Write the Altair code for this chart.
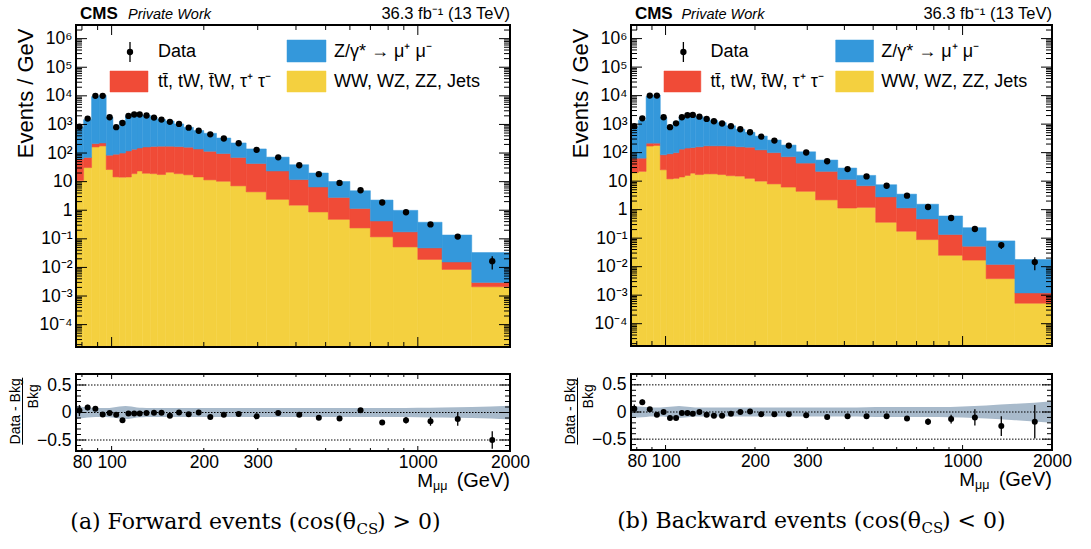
import altair as alt
import pandas as pd

# ---------------- data ----------------
EDGES = [76, 81, 86, 91, 96, 101, 106, 111, 116, 121, 126, 134, 141, 150, 160,
         172, 185, 200, 220, 245, 275, 320, 380, 440, 510, 600, 700, 830, 1000,
         1200, 1500, 2000]

# (a) forward: stack tops (yellow, yellow+red, total) in Events/GeV
FWD_VV = [11, 31, 163, 177, 26.5, 14.6, 14.3, 14.5, 19, 23.6, 19.6, 19, 17.7, 21.3, 19,
          17.3, 14.6, 11.5, 10.3, 7.1, 4.4, 2.4, 1.5, 0.87, 0.48, 0.24, 0.117, 0.052,
          0.019, 0.0085, 0.0021]
FWD_TT = [62, 70, 214, 225, 84, 91, 100, 118, 136, 150, 163, 170, 173, 173, 168, 160,
          138, 115, 96, 70, 43, 23.6, 11.8, 6.5, 2.8, 1.15, 0.42, 0.175, 0.048, 0.0155,
          0.0030]
FWD_DY = [800, 1470, 9400, 10400, 1800, 830, 1300, 2020, 2270, 2270, 2070, 1750, 1490,
          1310, 1040, 790, 610, 489, 335, 225, 139, 72, 39, 20, 10.1, 4.8, 2.27, 0.99,
          0.38, 0.136, 0.033]
FWD_DATA = [830, 1600, 10000, 10000, 1780, 800, 1120, 1980, 2220, 2220, 2050, 1740, 1480,
            1230, 1040, 770, 600, 450, 322, 220, 129, 71, 37.5, 18.2, 9.0, 5.0, 1.86,
            0.85, 0.32, 0.12, 0.0165]
FWD_DATA_ERR = [60, 65, 110, 110, 45, 30, 35, 45, 47, 47, 45, 40, 35, 30, 26, 22, 18, 15,
                11, 8, 5, 2.5, 1.5, 0.9, 0.55, 0.35, 0.15, 0.08, 0.045, 0.02, 0.008]
FWD_RATIO = [0.035, 0.09, 0.07, -0.035, -0.01, -0.04, -0.14, -0.02, -0.02, -0.02, -0.01,
             -0.005, -0.005, -0.06, 0.0, -0.03, 0.0, -0.08, -0.04, -0.025, -0.07, -0.01,
             -0.04, -0.095, -0.11, 0.04, -0.18, -0.14, -0.16, -0.12, -0.5]
FWD_RATIO_ERR = [0.10, 0.05, 0.015, 0.015, 0.025, 0.03, 0.03, 0.02, 0.02, 0.02, 0.02,
                 0.02, 0.02, 0.02, 0.02, 0.02, 0.02, 0.02, 0.02, 0.02, 0.02, 0.02, 0.025,
                 0.03, 0.035, 0.04, 0.04, 0.06, 0.08, 0.12, 0.16]
FWD_BAND = [0.125, 0.10, 0.085, 0.08, 0.08, 0.09, 0.11, 0.12, 0.11, 0.09,
            0.085, 0.08, 0.08, 0.08, 0.08, 0.08, 0.08, 0.08, 0.08, 0.08,
            0.08, 0.08, 0.08, 0.08, 0.08, 0.08, 0.08, 0.08,
            0.085, 0.09, 0.10, 0.125]

# (b) backward
BWD_VV = [20, 22, 170, 178, 25, 12, 12.5, 14, 15.8, 19, 17, 18, 18, 17, 15.5, 15, 12.5,
          10, 8, 6.2, 4.4, 2.2, 1.14, 1.2, 0.36, 0.175, 0.089, 0.025, 0.017, 0.0038,
          0.00052]
BWD_TT = [64, 64, 215, 215, 84, 91, 100, 133, 145, 150, 160, 173, 173, 173, 170, 160, 155,
          125, 100, 72, 43, 22, 11.5, 6.9, 2.8, 1.15, 0.47, 0.134, 0.052, 0.012, 0.0012]
BWD_DY = [800, 1360, 9500, 10500, 1740, 876, 1200, 1780, 2090, 2160, 1830, 1600, 1350,
          1130, 876, 660, 515, 380, 276, 184, 107, 55, 28.8, 15.9, 7.5, 3.5, 1.55, 0.6,
          0.233, 0.08, 0.0178]
BWD_DATA = [850, 1600, 10000, 10000, 1740, 780, 1070, 1740, 2050, 2100, 1830, 1520, 1260,
            1050, 850, 660, 520, 365, 265, 177, 101, 50, 26.5, 14.6, 6.9, 3.1, 1.24, 0.51,
            0.21, 0.057, 0.0145]
BWD_DATA_ERR = [60, 65, 110, 110, 45, 30, 35, 45, 47, 47, 45, 40, 35, 30, 26, 22, 18, 15,
                11, 8, 5, 2.5, 1.5, 0.9, 0.5, 0.3, 0.13, 0.07, 0.04, 0.015, 0.007]
BWD_RATIO = [0.06, 0.18, 0.05, -0.05, 0.0, -0.11, -0.11, -0.02, -0.02, -0.03, 0.0, -0.05,
             -0.07, -0.07, -0.03, 0.0, 0.01, -0.04, -0.04, -0.04, -0.06, -0.09, -0.08,
             -0.08, -0.08, -0.12, -0.18, -0.13, -0.10, -0.26, -0.18]
BWD_RATIO_ERR = [0.08, 0.05, 0.015, 0.015, 0.025, 0.03, 0.03, 0.02, 0.02, 0.02, 0.02,
                 0.02, 0.02, 0.02, 0.02, 0.02, 0.02, 0.02, 0.02, 0.02, 0.02, 0.02, 0.025,
                 0.03, 0.035, 0.045, 0.06, 0.08, 0.15, 0.18, 0.31]
BWD_BAND = [0.11, 0.10, 0.09, 0.085, 0.085, 0.09, 0.10, 0.11, 0.10, 0.09,
            0.085, 0.085, 0.085, 0.085, 0.085, 0.085, 0.085, 0.085, 0.085, 0.085,
            0.085, 0.085, 0.085, 0.085, 0.09, 0.09, 0.09, 0.09,
            0.10, 0.12, 0.15, 0.20]

# axis ticks / labels
Y_MAJOR = [1e-4, 1e-3, 1e-2, 1e-1, 1, 10, 100, 1e3, 1e4, 1e5, 1e6]
Y_MINOR = [m * 10.0 ** e for e in range(-5, 7) for m in range(2, 10)
           if 1.7e-5 < m * 10.0 ** e < 2.9e6]
X_MAJOR = [100, 1000]
X_MINOR = [80, 90, 200, 300, 400, 500, 600, 700, 800, 900, 2000]
X_LABELS = [80, 100, 200, 300, 1000, 2000]
R_MAJOR = [-0.5, 0, 0.5]
R_MINOR = [-0.6, -0.4, -0.3, -0.2, -0.1, 0.1, 0.2, 0.3, 0.4, 0.6]
R_LINES = [-0.5, 0, 0.5]

# ---------------- style ----------------
FONT = "Liberation Sans"
SERIF = "DejaVu Serif"
C_DY = "#3498db"
C_TT = "#f04b37"
C_VV = "#f4d03f"
C_BAND = "#a8bacb"

XS = alt.Scale(type="log", domain=[76.5, 2000], nice=False)
YS = alt.Scale(type="log", domain=[1.65e-5, 3.0e6], nice=False)
RS = alt.Scale(type="linear", domain=[-0.7, 0.7], nice=False, zero=False)

SUP = {"-": "\u207b", "0": "\u2070", "1": "\u00b9", "2": "\u00b2", "3": "\u00b3",
       "4": "\u2074", "5": "\u2075", "6": "\u2076"}
EXP = "round(log(datum.value)/LN10)"
y_expr = "''"
for e in reversed(range(-4, 7)):
    if e == 0:
        lab = "1"
    elif e == 1:
        lab = "10"
    else:
        lab = "10" + "".join(SUP[c] for c in str(e))
    y_expr = f"{EXP} == {e} ? '{lab}' : ({y_expr})"

YAX = alt.Axis(values=Y_MAJOR, labelExpr=y_expr, title="Events / GeV", titleX=-44,
               titleY=3, titleAngle=270, titleAlign="right", titleBaseline="alphabetic",
               titleFontSize=22, titleFontWeight="normal", titleFont=FONT,
               titleColor="black", labelPadding=4, ticks=False, domain=False,
               grid=False, labelFontSize=17.5, labelFont=FONT, labelColor="black",
               labelOverlap=False)
RAX = alt.Axis(values=R_MAJOR,
               labelExpr="datum.value > 0.1 ? '0.5' : (datum.value < -0.1 ? '\u22120.5' : '0')",
               title=None, labelPadding=5, ticks=False, domain=False, grid=False,
               labelFontSize=17.5, labelFont=FONT, labelColor="black", labelOverlap=False)
XAX = alt.Axis(values=X_LABELS, format="d", title=None, labelPadding=2, ticks=False,
               domain=False, grid=False, labelFontSize=17.5, labelFont=FONT,
               labelColor="black", labelOverlap=False, labelFlush=False)

ONE = pd.DataFrame({"k": [0]})


def txt(x, y, s, size, align="left", baseline="middle", font=FONT, **kw):
    return alt.Chart(ONE).mark_text(text=s, fontSize=size, font=font, align=align,
                                    baseline=baseline, color="black", **kw).encode(
        x=alt.value(x), y=alt.value(y))


def box(x1, x2, y1, y2, color):
    return alt.Chart(ONE).mark_rect(fill=color, stroke=color, strokeWidth=0.5).encode(
        x=alt.value(x1), x2=alt.value(x2), y=alt.value(y1), y2=alt.value(y2))


def panel(vv, tt, dy, data, derr, ratio, rerr, band, W, H, RH, cap1, cap3, split,
          anchor=False):
    k = W / 434.0
    centers = [(a + b) / 2 for a, b in zip(EDGES[:-1], EDGES[1:])]
    hist = pd.DataFrame({"lo": EDGES[:-1], "hi": EDGES[1:], "vv": vv, "tt": tt, "dy": dy})
    pts = pd.DataFrame({"m": centers, "v": data,
                        "lo": [d - e for d, e in zip(data, derr)],
                        "hi": [d + e for d, e in zip(data, derr)]})
    rp = pd.DataFrame({"m": centers, "r": ratio,
                       "lo": [r - e for r, e in zip(ratio, rerr)],
                       "hi": [r + e for r, e in zip(ratio, rerr)]})
    bd = pd.DataFrame({"m": EDGES, "up": band, "dn": [-b for b in band]})

    def X(f, ax=None):
        return alt.X(f"{f}:Q", scale=XS, axis=ax)

    def Y(f):
        return alt.Y(f"{f}:Q", scale=YS, axis=YAX)

    def R(f):
        return alt.Y(f"{f}:Q", scale=RS, axis=RAX)

    hb = alt.Chart(hist)
    l_vv = hb.mark_rect(fill=C_VV, stroke=C_VV, strokeWidth=0.5, clip=True).encode(
        x=X("lo"), x2="hi", y=Y("vv"), y2=alt.value(H))
    l_tt = hb.mark_rect(fill=C_TT, stroke=C_TT, strokeWidth=0.5, clip=True).encode(
        x=X("lo"), x2="hi", y=Y("tt"), y2="vv")
    l_dy = hb.mark_rect(fill=C_DY, stroke=C_DY, strokeWidth=0.5, clip=True).encode(
        x=X("lo"), x2="hi", y=Y("dy"), y2="tt")

    pb = alt.Chart(pts)
    l_err = pb.mark_rule(color="black", strokeWidth=1.3, clip=True).encode(
        x=X("m"), y=Y("lo"), y2="hi")
    l_pts = pb.mark_circle(color="black", opacity=1, size=40, clip=True).encode(
        x=X("m"), y=Y("v"))

    def yt(vals, x1, x2, enc):
        return alt.Chart(pd.DataFrame({"v": vals})).mark_rule(
            color="black", strokeWidth=1).encode(y=enc("v"), x=alt.value(x1), x2=alt.value(x2))

    def xt(vals, y1, y2, ax=None):
        return alt.Chart(pd.DataFrame({"v": vals})).mark_rule(
            color="black", strokeWidth=1).encode(x=X("v", ax), y=alt.value(y1), y2=alt.value(y2))

    frame_m = alt.Chart(ONE).mark_rect(fillOpacity=0, stroke="black", strokeWidth=2).encode(
        x=alt.value(0), x2=alt.value(W), y=alt.value(0), y2=alt.value(H))

    legend = [
        alt.Chart(ONE).mark_rule(color="black", strokeWidth=1.3).encode(
            x=alt.value(54 * k), y=alt.value(17), y2=alt.value(37)),
        alt.Chart(ONE).mark_circle(color="black", opacity=1, size=40).encode(
            x=alt.value(54 * k), y=alt.value(27)),
        txt(82 * k, 27, "Data", 18),
        box(211 * k, 250 * k, 15, 37, C_DY),
        txt(258 * k, 27, "Z/\u03b3* \u2192 \u03bc\u207a \u03bc\u207b", 18),
        box(34 * k, 72 * k, 46, 67, C_TT),
        txt(82 * k, 57, "tt\u0304, tW, t\u0304W, \u03c4\u207a \u03c4\u207b", 18),
        box(211 * k, 250 * k, 46, 67, C_VV),
        txt(258 * k, 57, "WW, WZ, ZZ, Jets", 18),
        txt(4 * k, -6.5, "CMS", 17, baseline="alphabetic", fontWeight="bold"),
        txt(52 * k, -6.5, "Private Work", 14.5, baseline="alphabetic", fontStyle="italic"),
        txt(W, -6, "36.3 fb\u207b\u00b9 (13 TeV)", 16.5, align="right", baseline="alphabetic"),
    ]

    layers = [l_vv, l_tt, l_dy, l_err, l_pts,
              yt(Y_MAJOR, 0, 11, Y), yt(Y_MINOR, 0, 6, Y),
              yt(Y_MAJOR, W - 11, W, Y), yt(Y_MINOR, W - 6, W, Y),
              xt(X_MAJOR, H - 10, H), xt(X_MINOR, H - 5, H),
              xt(X_MAJOR, 0, 10), xt(X_MINOR, 0, 5),
              frame_m] + legend
    if anchor:
        layers.append(alt.Chart(ONE).mark_rule(color="white", strokeWidth=1).encode(
            x=alt.value(-75.5), x2=alt.value(-70), y=alt.value(-24.5), y2=alt.value(-24.5)))
    main = alt.layer(*layers).properties(width=W, height=H)

    # ratio panel
    l_band = alt.Chart(bd).mark_area(color=C_BAND, interpolate="monotone", clip=True).encode(
        x=X("m", XAX), y=R("dn"), y2="up")
    l_lines = alt.Chart(pd.DataFrame({"v": R_LINES})).mark_rule(
        color="black", strokeWidth=1, strokeDash=[1.5, 1.5]).encode(
        y=R("v"), x=alt.value(0), x2=alt.value(W))
    rb = alt.Chart(rp)
    l_rerr = rb.mark_rule(color="black", strokeWidth=1.3, clip=True).encode(
        x=X("m", XAX), y=R("lo"), y2="hi")
    l_rpts = rb.mark_circle(color="black", opacity=1, size=36, clip=True).encode(
        x=X("m", XAX), y=R("r"))
    frame_r = alt.Chart(ONE).mark_rect(fillOpacity=0, stroke="black", strokeWidth=2).encode(
        x=alt.value(0), x2=alt.value(W), y=alt.value(0), y2=alt.value(RH))
    cap_y = RH + 77.5
    rlayers = [l_band, l_lines, l_rerr, l_rpts,
               yt(R_MAJOR, 0, 10, R), yt(R_MINOR, 0, 5, R),
               yt(R_MAJOR, W - 10, W, R), yt(R_MINOR, W - 5, W, R),
               xt(X_MAJOR, RH - 5, RH, XAX), xt(X_MINOR, RH - 3, RH, XAX),
               xt(X_MAJOR, 0, 5, XAX), xt(X_MINOR, 0, 3, XAX),
               frame_r,
               txt(W - 77, RH + 36, "M", 19, align="right", baseline="alphabetic"),
               txt(W - 77, RH + 38.5, "\u03bc\u03bc", 12.5, align="left", baseline="alphabetic"),
               txt(W, RH + 36, "(GeV)", 20, align="right", baseline="alphabetic"),
               txt(-56, 37.4, "Data - Bkg", 14, align="center", baseline="alphabetic", angle=270),
               txt(-38, 22.4, "Bkg", 14, align="center", baseline="alphabetic", angle=270),
               alt.Chart(ONE).mark_rule(color="black", strokeWidth=1).encode(
                   x=alt.value(-53.5), y=alt.value(3.7), y2=alt.value(70.7)),
               txt(split, cap_y, cap1, 22, align="right", baseline="alphabetic", font=SERIF),
               txt(split + 0.5, cap_y + 5, "CS", 15, align="left", baseline="alphabetic", font=SERIF),
               txt(split + 21, cap_y, cap3, 22, align="left", baseline="alphabetic", font=SERIF),
               ]
    ratio_c = alt.layer(*rlayers).properties(width=W, height=RH)
    return main, ratio_c


mL, rL = panel(FWD_VV, FWD_TT, FWD_DY, FWD_DATA, FWD_DATA_ERR, FWD_RATIO, FWD_RATIO_ERR,
               FWD_BAND, 434, 322, 77, "(a) Forward events (cos(\u03b8", ") > 0)", 280,
               anchor=True)
mR, rR = panel(BWD_VV, BWD_TT, BWD_DY, BWD_DATA, BWD_DATA_ERR, BWD_RATIO, BWD_RATIO_ERR,
               BWD_BAND, 421, 321, 76, "(b) Backward events (cos(\u03b8", ") < 0)", 290)

chart = alt.concat(
    mL, mR, rL, rR, columns=2,
    spacing={"row": 27, "column": 121}, bounds="flush",
).properties(padding=0, background="white").configure_view(stroke=None)

chart.save("out.html", embed_options={"renderer": "svg", "actions": False})
